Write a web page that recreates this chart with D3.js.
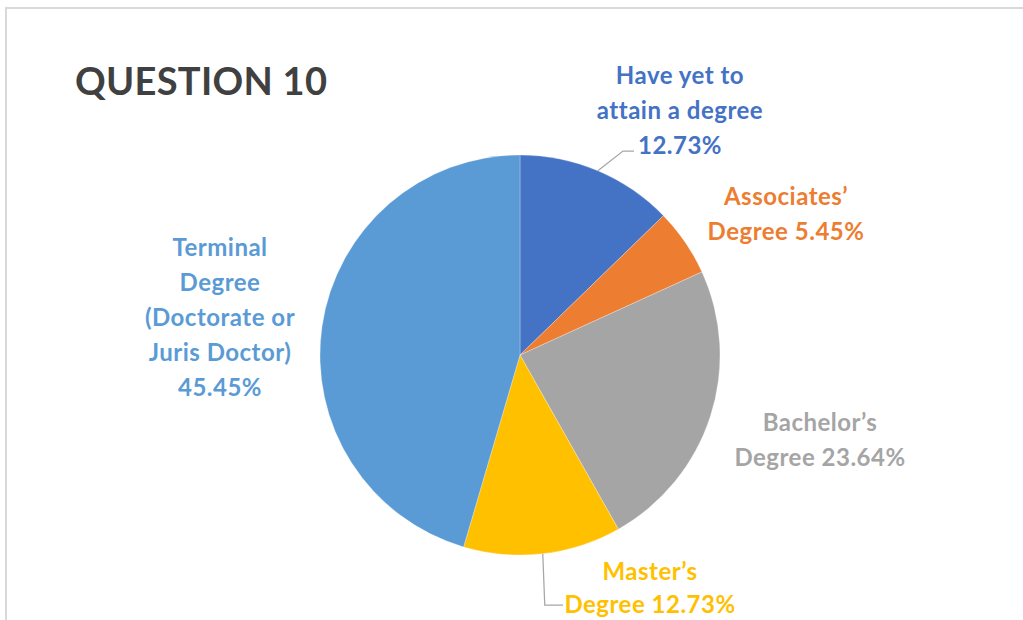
<!DOCTYPE html>
<html>
<head>
<meta charset="utf-8">
<script src="https://cdn.jsdelivr.net/npm/d3@7"></script>
<style>
  html, body { margin: 0; padding: 0; background: #ffffff; }
  svg { display: block; }
  text { font-family: Lato, "Open Sans", sans-serif; font-weight: 700; }
</style>
</head>
<body>
<svg id="chart" width="1023" height="620"></svg>
<script>
// Survey responses: highest degree attained (percent of respondents)
const categories = [
  "Have yet to attain a degree",
  "Associates' Degree",
  "Bachelor's Degree",
  "Master's Degree",
  "Terminal Degree (Doctorate or Juris Doctor)"
];
const values = [12.73, 5.45, 23.64, 12.73, 45.45];
const labelLines = [
  ["Have yet to", "attain a degree"],
  ["Associates\u2019", "Degree"],
  ["Bachelor\u2019s", "Degree"],
  ["Master\u2019s", "Degree"],
  ["Terminal", "Degree", "(Doctorate or", "Juris Doctor)"]
];
const colors = ["#4472C4", "#ED7D31", "#A5A5A5", "#FFC000", "#5B9BD5"];
const title = "QUESTION 10";

const W = 1023, H = 620;
const cx = 520, cy = 355, R = 200;
const svg = d3.select("#chart");

// chart area frame (top and left edges visible)
svg.append("path")
  .attr("d", `M6,${H} L6,8 L${W},8`)
  .attr("fill", "none")
  .attr("stroke", "#d9d9d9")
  .attr("stroke-width", 2);

svg.append("text")
  .attr("x", 75).attr("y", 95)
  .attr("fill", "#404040")
  .attr("font-size", 38)
  .attr("letter-spacing", 0.3)
  .text(title);

const data = categories.map((c, i) => ({ name: c, value: values[i], lines: labelLines[i], color: colors[i] }));
const pie = d3.pie().value(d => d.value).sort(null);
const arcs = pie(data);
const arc = d3.arc().innerRadius(0).outerRadius(R);

const g = svg.append("g").attr("transform", `translate(${cx},${cy})`);
g.selectAll("path.slice")
  .data(arcs)
  .join("path")
  .attr("class", "slice")
  .attr("d", arc)
  .attr("fill", d => d.data.color)
  .attr("stroke", "#ffffff")
  .attr("stroke-opacity", 0.35)
  .attr("stroke-width", 0.75);

// label placement (block center x, first line center y, line step)
const fmt = v => v.toFixed(2) + "%";
const labelPos = [
  { x: 680, y: 75, step: 35, pctInline: false },
  { x: 786, y: 196, step: 35, pctInline: true },
  { x: 820, y: 422, step: 35, pctInline: true },
  { x: 650, y: 571, step: 33, pctInline: true },
  { x: 220, y: 247, step: 35, pctInline: false }
];

arcs.forEach((a, i) => {
  const p = labelPos[i];
  const lines = a.data.lines.slice();
  if (p.pctInline) lines[lines.length - 1] += " " + fmt(a.data.value);
  else lines.push(fmt(a.data.value));
  const t = svg.append("text")
    .attr("text-anchor", "middle")
    .attr("fill", a.data.color)
    .attr("font-size", 24)
    .attr("letter-spacing", 0.5);
  lines.forEach((ln, k) => {
    t.append("tspan")
      .attr("x", p.x)
      .attr("y", p.y + k * p.step)
      .attr("dy", "0.36em")
      .text(ln);
  });
});

// leader lines from slice edge to their labels
const edgePt = a => {
  const m = (a.startAngle + a.endAngle) / 2;
  return [cx + R * Math.sin(m), cy - R * Math.cos(m)];
};
const lp0 = edgePt(arcs[0]);
const lp3 = edgePt(arcs[3]);
const leaders = [
  [lp0, [623, 151], [634, 151]],
  [lp3, [lp3[0] + 2, 605], [563, 605]]
];
svg.selectAll("path.leader")
  .data(leaders)
  .join("path")
  .attr("class", "leader")
  .attr("d", d => d3.line()(d))
  .attr("fill", "none")
  .attr("stroke", "#a6a6a6")
  .attr("stroke-width", 1.25);
</script>
</body>
</html>
